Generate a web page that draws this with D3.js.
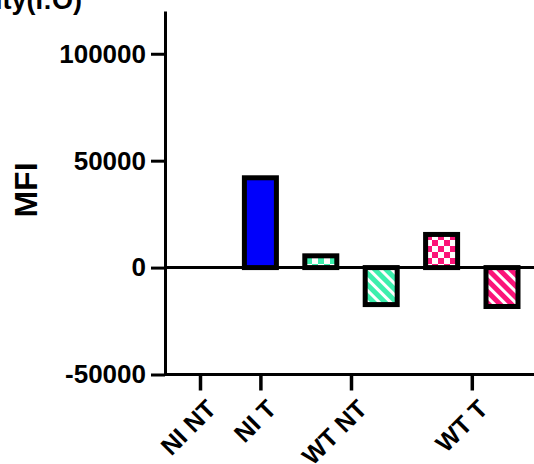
<!DOCTYPE html>
<html>
<head>
<meta charset="utf-8">
<script src="https://cdn.jsdelivr.net/npm/d3@7"></script>
<style>
    body { margin: 0; background: #fff; }
    svg text { font-family: "Liberation Sans", Arial, sans-serif; font-weight: bold; }
</style>
</head>
<body>
<svg width="534" height="464"></svg>
<script>
    var categories = ['NI NT', 'NI T', 'WT NT', 'WT T'];
    // one entry per bar slot, left to right
    var barGroups = ['NI NT', 'NI T', 'WT NT', 'WT NT', 'WT T', 'WT T'];
    var barValues = [0, 42000, 5500, -17300, 15500, -18200];
    var barFills = ['none', 'solid-blue', 'check-green', 'stripe-green', 'check-pink', 'stripe-pink'];
    var yTicks = [-50000, 0, 50000, 100000];
    var titleText = 'Intensity(I:O)';
    var yLabel = 'MFI';

    var green = '#3cefad', pink = '#fb1479', blue = '#0000fb';

    var svg = d3.select('svg'),
        defs = svg.append('defs');

    function checker(id, color) {
        var p = defs.append('pattern')
            .attr('id', id)
            .attr('patternUnits', 'userSpaceOnUse')
            .attr('width', 12).attr('height', 12);
        p.append('rect').attr('width', 12).attr('height', 12).attr('fill', '#fff');
        p.append('rect').attr('width', 6).attr('height', 6).attr('fill', color);
        p.append('rect').attr('x', 6).attr('y', 6).attr('width', 6).attr('height', 6).attr('fill', color);
    }

    function stripes(id, color) {
        var p = defs.append('pattern')
            .attr('id', id)
            .attr('patternUnits', 'userSpaceOnUse')
            .attr('width', 8).attr('height', 8)
            .attr('patternTransform', 'rotate(-45)');
        p.append('rect').attr('width', 8).attr('height', 8).attr('fill', '#fff');
        p.append('rect').attr('width', 5).attr('height', 8).attr('fill', color);
    }

    checker('check-green', green);
    checker('check-pink', pink);
    stripes('stripe-green', green);
    stripes('stripe-pink', pink);

    function fillFor(name) {
        if (name === 'solid-blue') return blue;
        return 'url(#' + name + ')';
    }

    var y = d3.scaleLinear()
        .domain([-50000, 120000])
        .range([374.5, 11]);

    var x = d3.scaleLinear()
        .domain([0, barValues.length - 1])
        .range([200, 502]);

    // category tick = middle of its bars
    var catPos = categories.map(function (c) {
        var idx = [];
        barGroups.forEach(function (g, i) { if (g === c) idx.push(i); });
        return d3.mean(idx);
    });

    var axisX = 165, axisY = y(-50000);
    var font = '"Liberation Sans", Arial, sans-serif';

    // bars
    var bars = barValues.map(function (v, i) { return { i: i, v: v, fill: barFills[i] }; })
        .filter(function (d) { return d.v !== 0; });

    var barW = 32;
    svg.append('g').selectAll('rect')
        .data(bars)
        .enter().append('rect')
        .attr('x', function (d) { return x(d.i) - barW / 2; })
        .attr('y', function (d) { return y(Math.max(d.v, 0)); })
        .attr('width', barW)
        .attr('height', function (d) { return Math.abs(y(d.v) - y(0)); })
        .attr('fill', function (d) { return fillFor(d.fill); })
        .attr('stroke', '#000')
        .attr('stroke-width', 5);

    // zero line
    svg.append('line')
        .attr('x1', axisX).attr('x2', 540)
        .attr('y1', y(0)).attr('y2', y(0))
        .attr('stroke', '#000').attr('stroke-width', 3);

    // y axis
    var yAxis = svg.append('g')
        .attr('transform', 'translate(' + axisX + ',0)')
        .call(d3.axisLeft(y).tickValues(yTicks).tickSize(14).tickPadding(5).tickSizeOuter(0)
            .tickFormat(function (d) { return String(d); }));
    yAxis.select('.domain').attr('stroke-width', 3);
    yAxis.selectAll('.tick line').attr('stroke-width', 3);
    yAxis.selectAll('.tick text')
        .attr('font-size', 26)
        .attr('fill', '#000')
        .style('font-family', font);

    // x axis
    var xAxis = svg.append('g')
        .attr('transform', 'translate(0,' + axisY + ')')
        .call(d3.axisBottom(x).tickValues(catPos).tickSize(16).tickSizeOuter(0)
            .tickFormat(function (d, i) { return categories[i]; }));
    xAxis.select('.domain').attr('d', 'M' + axisX + ',0H540').attr('stroke-width', 3);
    xAxis.selectAll('.tick line').attr('stroke-width', 3.5);
    xAxis.selectAll('.tick text')
        .attr('font-size', 25)
        .attr('fill', '#000')
        .style('font-family', font)
        .attr('text-anchor', 'end')
        .attr('x', 0).attr('y', 0).attr('dy', 0)
        .attr('transform', 'translate(17,36) rotate(-45)');

    // axis title
    svg.append('text')
        .attr('transform', 'translate(37,190) rotate(-90)')
        .attr('text-anchor', 'middle')
        .attr('font-size', 32)
        .attr('fill', '#000')
        .text(yLabel);

    // cropped figure title
    svg.append('text')
        .attr('x', 82).attr('y', 9)
        .attr('text-anchor', 'end')
        .attr('font-size', 27)
        .attr('fill', '#000')
        .text(titleText);
</script>
</body>
</html>
